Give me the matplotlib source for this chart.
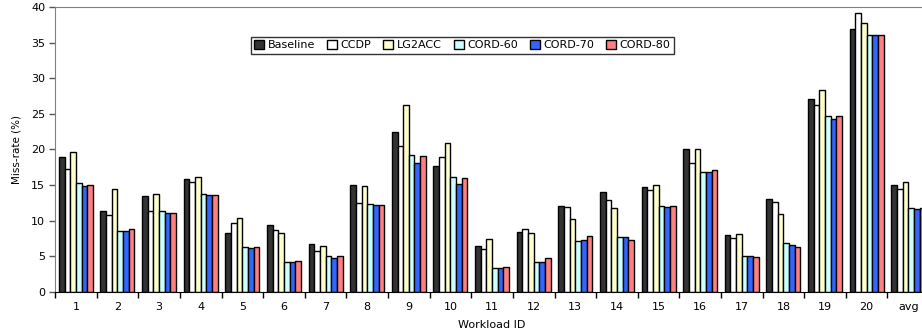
import numpy as np
import matplotlib.pyplot as plt

workloads = ['1', '2', '3', '4', '5', '6', '7', '8', '9', '10', '11', '12', '13', '14',
             '15', '16', '17', '18', '19', '20', 'avg']
schemes = ['Baseline', 'CCDP', 'LG2ACC', 'CORD-60', 'CORD-70', 'CORD-80']
colors = ['#333333', '#ffffff', '#ffffcc', '#ccffff', '#3366ff', '#ff8080']

baseline = [19.0, 11.4, 13.5, 15.9, 8.3, 9.4, 6.8, 15.0, 22.5, 17.7, 6.5, 8.4, 12.1, 14.1,
            14.8, 20.0, 8.0, 13.1, 27.1, 36.9, 15.0]
ccdp = [17.3, 10.8, 11.4, 15.5, 9.7, 8.7, 5.8, 12.5, 20.5, 19.0, 6.1, 8.9, 11.9, 12.9,
        14.3, 18.1, 7.6, 12.6, 26.3, 39.2, 14.5]
lg2acc = [19.7, 14.4, 13.8, 16.2, 10.4, 8.3, 6.4, 14.9, 26.3, 20.9, 7.5, 8.3, 10.3, 11.8,
          15.0, 20.0, 8.2, 10.9, 28.4, 37.8, 15.5]
cord60 = [15.3, 8.6, 11.4, 13.7, 6.3, 4.2, 5.0, 12.3, 19.2, 16.1, 3.4, 4.2, 7.2, 7.7,
          12.0, 16.9, 5.1, 6.9, 24.7, 36.0, 11.8]
cord70 = [14.9, 8.6, 11.1, 13.6, 6.2, 4.2, 4.8, 12.2, 18.1, 15.1, 3.4, 4.2, 7.3, 7.7,
          11.9, 16.8, 5.1, 6.6, 24.3, 36.0, 11.6]
cord80 = [15.0, 8.8, 11.1, 13.6, 6.3, 4.3, 5.1, 12.2, 19.1, 16.0, 3.5, 4.8, 7.8, 7.3,
          12.0, 17.1, 4.9, 6.3, 24.7, 36.1, 11.8]
series = [baseline, ccdp, lg2acc, cord60, cord70, cord80]

fig = plt.figure(figsize=(9.22, 3.32), dpi=100)
ax = fig.add_axes([0.0597, 0.1205, 0.948, 0.8585])

x = np.arange(len(workloads))
w = 0.136
for i, (vals, name, c) in enumerate(zip(series, schemes, colors)):
    ax.bar(x + (i - 2.5) * w, vals, w, color=c, edgecolor='black', linewidth=1.0,
           label=name)

ax.set_xlim(-0.5, len(workloads) - 0.5)
ax.set_ylim(0, 40)
ax.set_yticks(range(0, 41, 5))

# ticks between groups, labels under the group centres
ax.set_xticks(np.arange(len(workloads) + 1) - 0.5)
ax.set_xticklabels([])
ax.set_xticks(x, minor=True)
ax.set_xticklabels(workloads, minor=True, fontsize=8)
ax.tick_params(axis='x', which='minor', length=0, pad=7)
ax.tick_params(axis='x', which='major', length=4, width=1, direction='out', color='black')
ax.tick_params(axis='y', length=4, width=1, labelsize=8, pad=3, color='#555555')

ax.spines['right'].set_visible(False)
ax.spines['top'].set_color('#808080')
ax.spines['left'].set_color('#808080')
ax.spines['bottom'].set_color('black')

ax.set_ylabel('Miss-rate (%)', fontsize=7.5, labelpad=7)
ax.set_xlabel('Workload ID', fontsize=8, labelpad=6)

leg = ax.legend(loc='center', bbox_to_anchor=(0.466, 0.866), ncol=6, fontsize=8,
                frameon=True, fancybox=False, edgecolor='black', handlelength=0.9,
                handleheight=0.9, handletextpad=0.3, columnspacing=1.1,
                borderpad=0.3, borderaxespad=0)
leg.get_frame().set_linewidth(1.0)

fig.savefig('out.png', dpi=100)
